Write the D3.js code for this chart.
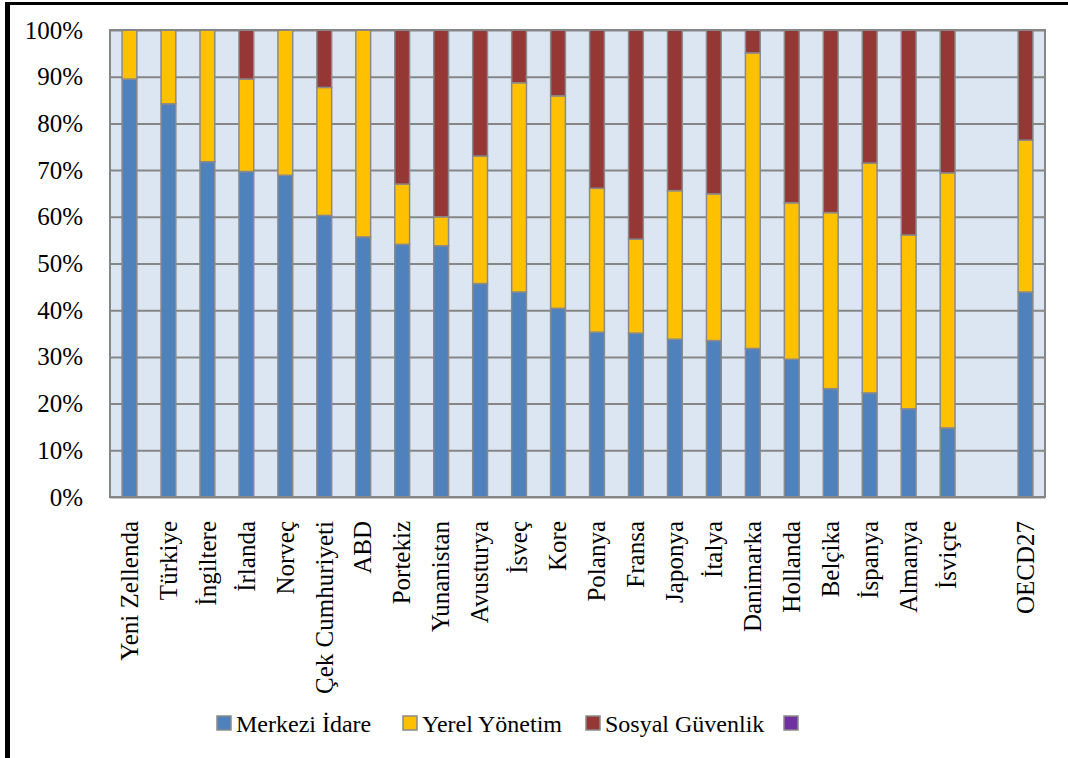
<!DOCTYPE html>
<html>
<head>
<meta charset="utf-8">
<script src="https://cdn.jsdelivr.net/npm/d3@7"></script>
<style>
  html, body { margin: 0; padding: 0; background: #ffffff; }
  svg { display: block; }
  text { font-family: "Liberation Serif", "Times New Roman", serif; fill: #000; }
</style>
</head>
<body>
<svg id="chart" width="1068" height="758"></svg>
<script>
// Countries (an empty slot separates the OECD average)
const categories = ["Yeni Zellenda", "Türkiye", "İngiltere", "İrlanda", "Norveç",
  "Çek Cumhuriyeti", "ABD", "Portekiz", "Yunanistan", "Avusturya", "İsveç", "Kore",
  "Polanya", "Fransa", "Japonya", "İtalya", "Danimarka", "Hollanda", "Belçika",
  "İspanya", "Almanya", "İsviçre", "", "OECD27"];

// Shares (%) by level of government
const merkeziIdare = [89.5, 84.2, 71.8, 69.7, 68.9, 60.3, 55.7, 54.1, 53.8, 45.7, 43.9, 40.4,
  35.3, 35.1, 33.8, 33.5, 31.8, 29.5, 23.2, 22.3, 18.9, 14.8, null, 43.9];
const yerelYonetim = [10.5, 15.8, 28.2, 19.8, 31.1, 27.4, 44.3, 12.9, 6.2, 27.3, 44.8, 45.5,
  30.8, 20.1, 31.8, 31.4, 63.3, 33.5, 37.7, 49.2, 37.2, 54.6, null, 32.5];
const sosyalGuvenlik = [0, 0, 0, 10.5, 0, 12.3, 0, 33.0, 40.0, 27.0, 11.3, 14.1,
  33.9, 44.8, 34.4, 35.1, 4.9, 37.0, 39.1, 28.5, 43.9, 30.6, null, 23.6];

const seriesNames = ["Merkezi İdare", "Yerel Yönetim", "Sosyal Güvenlik", ""];
const seriesColors = ["#4F81BD", "#FFC000", "#953735", "#7030A0"];
const yTicks = [0, 10, 20, 30, 40, 50, 60, 70, 80, 90, 100];

const svg = d3.select("#chart");

// outer frame (only its top and left edges fall inside the view)
svg.append("rect").attr("x", 5).attr("y", 2).attr("width", 1070).attr("height", 3).attr("fill", "#000");
svg.append("rect").attr("x", 5).attr("y", 2).attr("width", 5).attr("height", 770).attr("fill", "#000");

const plot = { left: 110, right: 1045, top: 30, bottom: 497 };

const x = d3.scaleBand()
  .domain(categories)
  .range([plot.left, plot.right])
  .paddingInner(0.62)
  .paddingOuter(0.31);

const y = d3.scaleLinear().domain([0, 100]).range([plot.bottom, plot.top]);

// plot background
svg.append("rect")
  .attr("x", plot.left).attr("y", plot.top)
  .attr("width", plot.right - plot.left).attr("height", plot.bottom - plot.top)
  .attr("fill", "#DCE6F2");

// horizontal gridlines + percentage labels
const yAxis = d3.axisLeft(y).tickValues(yTicks).tickFormat(d => d + "%")
  .tickSize(-(plot.right - plot.left)).tickPadding(27);
const gy = svg.append("g").attr("transform", `translate(${plot.left},0)`).call(yAxis);
gy.select(".domain").remove();
gy.selectAll(".tick line").attr("stroke", "#868686").attr("stroke-width", 2);
gy.selectAll(".tick text")
  .style("font-family", "'Liberation Serif', serif")
  .style("font-size", "25px")
  .attr("fill", "#000");

// stacked bars
const rows = categories.map((c, i) => ({
  cat: c,
  s0: merkeziIdare[i], s1: yerelYonetim[i], s2: sosyalGuvenlik[i]
})).filter(r => r.s0 !== null);

const stacked = d3.stack().keys(["s0", "s1", "s2"])(rows);

svg.append("g").selectAll("g")
  .data(stacked)
  .join("g")
  .attr("fill", (d, i) => seriesColors[i])
  .selectAll("rect")
  .data(d => d.filter(p => p[1] - p[0] > 0))
  .join("rect")
  .attr("x", d => x(d.data.cat))
  .attr("width", x.bandwidth())
  .attr("y", d => y(d[1]))
  .attr("height", d => y(d[0]) - y(d[1]))
  .attr("stroke", "#8a8a8a")
  .attr("stroke-width", 1.5);

// plot border
svg.append("rect")
  .attr("x", plot.left).attr("y", plot.top)
  .attr("width", plot.right - plot.left).attr("height", plot.bottom - plot.top)
  .attr("fill", "none").attr("stroke", "#868686").attr("stroke-width", 2);

// category labels, rotated
const xAxis = d3.axisBottom(x).tickSize(0).tickPadding(0);
const gx = svg.append("g").attr("transform", `translate(0,${plot.bottom})`).call(xAxis);
gx.select(".domain").remove();
gx.selectAll(".tick text")
  .style("font-family", "'Liberation Serif', serif")
  .style("font-size", "25px")
  .attr("fill", "#000")
  .attr("text-anchor", "end")
  .attr("transform", "rotate(-90)")
  .attr("x", -24)
  .attr("y", 0)
  .attr("dy", "0.33em");

// legend
const legendX = [217, 403, 586, 784];
const legend = svg.append("g");
seriesNames.forEach((name, i) => {
  legend.append("rect")
    .attr("x", legendX[i]).attr("y", 716)
    .attr("width", 14).attr("height", 14)
    .attr("fill", seriesColors[i])
    .attr("stroke", "#8a8a8a").attr("stroke-width", 1.5);
  legend.append("text")
    .attr("x", legendX[i] + 19).attr("y", 732)
    .style("font-size", "24px")
    .text(name);
});
</script>
</body>
</html>
